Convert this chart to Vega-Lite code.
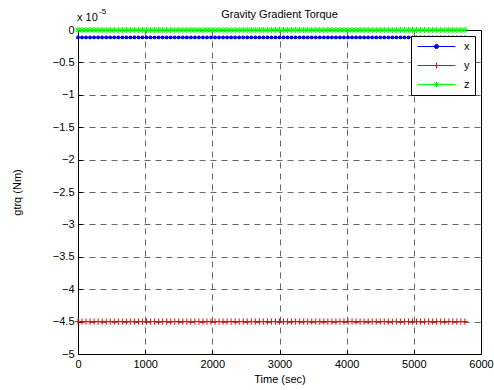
{
  "$schema": "https://vega.github.io/schema/vega-lite/v6.json",
  "width": 403,
  "height": 324,
  "autosize": {"type": "none"},
  "padding": {"left": 78, "top": 30, "right": 13, "bottom": 36},
  "background": "white",
  "title": {"text": "Gravity Gradient Torque", "frame": "group", "font": "Liberation Sans", "fontSize": 11, "fontWeight": "normal", "color": "black", "offset": -12},
  "config": {
    "view": {"stroke": "black", "strokeWidth": 1},
    "axis": {
      "labelFont": "Liberation Sans", "labelFontSize": 11, "labelColor": "black",
      "titleFont": "Liberation Sans", "titleFontSize": 11, "titleFontWeight": "normal", "titleColor": "black",
      "domainColor": "black", "domainWidth": 1,
      "tickColor": "black", "tickSize": -4, "labelPadding": 8,
      "grid": true, "gridColor": "black", "gridDash": [6, 5], "gridWidth": 0.6, "gridOpacity": 1
    },
    "legend": {
      "labelFont": "Liberation Sans", "labelFontSize": 11, "labelColor": "black"
    }
  },
  "data": {"values": [
    {"t":0,"x":-1.15e-6,"y":-4.5e-5,"z":0},
    {"t":60,"x":-1.15e-6,"y":-4.5e-5,"z":0},
    {"t":120,"x":-1.15e-6,"y":-4.5e-5,"z":0},
    {"t":180,"x":-1.15e-6,"y":-4.5e-5,"z":0},
    {"t":240,"x":-1.15e-6,"y":-4.5e-5,"z":0},
    {"t":300,"x":-1.15e-6,"y":-4.5e-5,"z":0},
    {"t":360,"x":-1.15e-6,"y":-4.5e-5,"z":0},
    {"t":420,"x":-1.15e-6,"y":-4.5e-5,"z":0},
    {"t":480,"x":-1.15e-6,"y":-4.5e-5,"z":0},
    {"t":540,"x":-1.15e-6,"y":-4.5e-5,"z":0},
    {"t":600,"x":-1.15e-6,"y":-4.5e-5,"z":0},
    {"t":660,"x":-1.15e-6,"y":-4.5e-5,"z":0},
    {"t":720,"x":-1.15e-6,"y":-4.5e-5,"z":0},
    {"t":780,"x":-1.15e-6,"y":-4.5e-5,"z":0},
    {"t":840,"x":-1.15e-6,"y":-4.5e-5,"z":0},
    {"t":900,"x":-1.15e-6,"y":-4.5e-5,"z":0},
    {"t":960,"x":-1.15e-6,"y":-4.5e-5,"z":0},
    {"t":1020,"x":-1.15e-6,"y":-4.5e-5,"z":0},
    {"t":1080,"x":-1.15e-6,"y":-4.5e-5,"z":0},
    {"t":1140,"x":-1.15e-6,"y":-4.5e-5,"z":0},
    {"t":1200,"x":-1.15e-6,"y":-4.5e-5,"z":0},
    {"t":1260,"x":-1.15e-6,"y":-4.5e-5,"z":0},
    {"t":1320,"x":-1.15e-6,"y":-4.5e-5,"z":0},
    {"t":1380,"x":-1.15e-6,"y":-4.5e-5,"z":0},
    {"t":1440,"x":-1.15e-6,"y":-4.5e-5,"z":0},
    {"t":1500,"x":-1.15e-6,"y":-4.5e-5,"z":0},
    {"t":1560,"x":-1.15e-6,"y":-4.5e-5,"z":0},
    {"t":1620,"x":-1.15e-6,"y":-4.5e-5,"z":0},
    {"t":1680,"x":-1.15e-6,"y":-4.5e-5,"z":0},
    {"t":1740,"x":-1.15e-6,"y":-4.5e-5,"z":0},
    {"t":1800,"x":-1.15e-6,"y":-4.5e-5,"z":0},
    {"t":1860,"x":-1.15e-6,"y":-4.5e-5,"z":0},
    {"t":1920,"x":-1.15e-6,"y":-4.5e-5,"z":0},
    {"t":1980,"x":-1.15e-6,"y":-4.5e-5,"z":0},
    {"t":2040,"x":-1.15e-6,"y":-4.5e-5,"z":0},
    {"t":2100,"x":-1.15e-6,"y":-4.5e-5,"z":0},
    {"t":2160,"x":-1.15e-6,"y":-4.5e-5,"z":0},
    {"t":2220,"x":-1.15e-6,"y":-4.5e-5,"z":0},
    {"t":2280,"x":-1.15e-6,"y":-4.5e-5,"z":0},
    {"t":2340,"x":-1.15e-6,"y":-4.5e-5,"z":0},
    {"t":2400,"x":-1.15e-6,"y":-4.5e-5,"z":0},
    {"t":2460,"x":-1.15e-6,"y":-4.5e-5,"z":0},
    {"t":2520,"x":-1.15e-6,"y":-4.5e-5,"z":0},
    {"t":2580,"x":-1.15e-6,"y":-4.5e-5,"z":0},
    {"t":2640,"x":-1.15e-6,"y":-4.5e-5,"z":0},
    {"t":2700,"x":-1.15e-6,"y":-4.5e-5,"z":0},
    {"t":2760,"x":-1.15e-6,"y":-4.5e-5,"z":0},
    {"t":2820,"x":-1.15e-6,"y":-4.5e-5,"z":0},
    {"t":2880,"x":-1.15e-6,"y":-4.5e-5,"z":0},
    {"t":2940,"x":-1.15e-6,"y":-4.5e-5,"z":0},
    {"t":3000,"x":-1.15e-6,"y":-4.5e-5,"z":0},
    {"t":3060,"x":-1.15e-6,"y":-4.5e-5,"z":0},
    {"t":3120,"x":-1.15e-6,"y":-4.5e-5,"z":0},
    {"t":3180,"x":-1.15e-6,"y":-4.5e-5,"z":0},
    {"t":3240,"x":-1.15e-6,"y":-4.5e-5,"z":0},
    {"t":3300,"x":-1.15e-6,"y":-4.5e-5,"z":0},
    {"t":3360,"x":-1.15e-6,"y":-4.5e-5,"z":0},
    {"t":3420,"x":-1.15e-6,"y":-4.5e-5,"z":0},
    {"t":3480,"x":-1.15e-6,"y":-4.5e-5,"z":0},
    {"t":3540,"x":-1.15e-6,"y":-4.5e-5,"z":0},
    {"t":3600,"x":-1.15e-6,"y":-4.5e-5,"z":0},
    {"t":3660,"x":-1.15e-6,"y":-4.5e-5,"z":0},
    {"t":3720,"x":-1.15e-6,"y":-4.5e-5,"z":0},
    {"t":3780,"x":-1.15e-6,"y":-4.5e-5,"z":0},
    {"t":3840,"x":-1.15e-6,"y":-4.5e-5,"z":0},
    {"t":3900,"x":-1.15e-6,"y":-4.5e-5,"z":0},
    {"t":3960,"x":-1.15e-6,"y":-4.5e-5,"z":0},
    {"t":4020,"x":-1.15e-6,"y":-4.5e-5,"z":0},
    {"t":4080,"x":-1.15e-6,"y":-4.5e-5,"z":0},
    {"t":4140,"x":-1.15e-6,"y":-4.5e-5,"z":0},
    {"t":4200,"x":-1.15e-6,"y":-4.5e-5,"z":0},
    {"t":4260,"x":-1.15e-6,"y":-4.5e-5,"z":0},
    {"t":4320,"x":-1.15e-6,"y":-4.5e-5,"z":0},
    {"t":4380,"x":-1.15e-6,"y":-4.5e-5,"z":0},
    {"t":4440,"x":-1.15e-6,"y":-4.5e-5,"z":0},
    {"t":4500,"x":-1.15e-6,"y":-4.5e-5,"z":0},
    {"t":4560,"x":-1.15e-6,"y":-4.5e-5,"z":0},
    {"t":4620,"x":-1.15e-6,"y":-4.5e-5,"z":0},
    {"t":4680,"x":-1.15e-6,"y":-4.5e-5,"z":0},
    {"t":4740,"x":-1.15e-6,"y":-4.5e-5,"z":0},
    {"t":4800,"x":-1.15e-6,"y":-4.5e-5,"z":0},
    {"t":4860,"x":-1.15e-6,"y":-4.5e-5,"z":0},
    {"t":4920,"x":-1.15e-6,"y":-4.5e-5,"z":0},
    {"t":4980,"x":-1.15e-6,"y":-4.5e-5,"z":0},
    {"t":5040,"x":-1.15e-6,"y":-4.5e-5,"z":0},
    {"t":5100,"x":-1.15e-6,"y":-4.5e-5,"z":0},
    {"t":5160,"x":-1.15e-6,"y":-4.5e-5,"z":0},
    {"t":5220,"x":-1.15e-6,"y":-4.5e-5,"z":0},
    {"t":5280,"x":-1.15e-6,"y":-4.5e-5,"z":0},
    {"t":5340,"x":-1.15e-6,"y":-4.5e-5,"z":0},
    {"t":5400,"x":-1.15e-6,"y":-4.5e-5,"z":0},
    {"t":5460,"x":-1.15e-6,"y":-4.5e-5,"z":0},
    {"t":5520,"x":-1.15e-6,"y":-4.5e-5,"z":0},
    {"t":5580,"x":-1.15e-6,"y":-4.5e-5,"z":0},
    {"t":5640,"x":-1.15e-6,"y":-4.5e-5,"z":0},
    {"t":5700,"x":-1.15e-6,"y":-4.5e-5,"z":0},
    {"t":5760,"x":-1.15e-6,"y":-4.5e-5,"z":0}
  ]},
  "transform": [{"fold": ["x", "y", "z"], "as": ["series", "gtrq"]}],
  "encoding": {
    "x": {"field": "t", "type": "quantitative", "scale": {"domain": [0, 6000], "nice": false},
          "axis": {"values": [0, 1000, 2000, 3000, 4000, 5000, 6000], "format": "d", "title": "Time (sec)", "titlePadding": 4, "labelFlush": false}},
    "y": {"field": "gtrq", "type": "quantitative", "scale": {"domain": [-5e-5, 0], "nice": false, "zero": false},
          "axis": {"values": [-5e-5, -4.5e-5, -4e-5, -3.5e-5, -3e-5, -2.5e-5, -2e-5, -1.5e-5, -1e-5, -0.5e-5, 0],
                   "labelExpr": "format(datum.value * 1e5, '~g')", "title": "gtrq (Nm)", "titlePadding": 30, "labelFlush": false}}
  },
  "layer": [
    {
      "transform": [{"filter": "datum.series === 'x'"}],
      "layer": [
        {"mark": {"type": "line", "strokeWidth": 1, "clip": true, "color": "#0000ff"}, "encoding": {}},
        {"mark": {"type": "point", "filled": true, "shape": "circle", "size": 14, "color": "#0000ff", "opacity": 1}, "encoding": {}}
      ]
    },
    {
      "transform": [{"filter": "datum.series === 'y'"}],
      "layer": [
        {"mark": {"type": "line", "strokeWidth": 1, "clip": true, "color": "#ff0000"}, "encoding": {}},
        {"mark": {"type": "point", "filled": false, "shape": "M-1,0H1M0,-1V1", "size": 40, "strokeWidth": 1, "color": "#ff0000", "opacity": 1}, "encoding": {}}
      ]
    },
    {
      "transform": [{"filter": "datum.series === 'z'"}],
      "layer": [
        {"mark": {"type": "line", "strokeWidth": 1, "clip": true, "color": "#00ff00"}, "encoding": {}},
        {"mark": {"type": "point", "filled": false, "shape": "M-1,0H1M0,-1V1M-0.7,-0.7L0.7,0.7M-0.7,0.7L0.7,-0.7", "size": 40, "strokeWidth": 1, "color": "#00ff00", "opacity": 1}, "encoding": {}}
      ]
    },
    {
      "transform": [{"filter": "datum.series === 'none'"}],
      "mark": {"type": "point", "filled": true, "opacity": 1, "strokeWidth": 1},
      "encoding": {
        "color": {"field": "series", "type": "nominal",
                  "scale": {"domain": ["x", "y", "z"], "range": ["#0000ff", "#ff0000", "#00ff00"]},
                  "legend": {
                    "title": null, "orient": "top-right", "offset": 6,
                    "padding": 5, "strokeColor": "black", "fillColor": "white",
                    "symbolSize": 36, "symbolStrokeWidth": 1, "symbolOffset": 15, "labelOffset": 22,
                    "rowPadding": 7
                  }},
        "stroke": {"field": "series", "type": "nominal",
                   "scale": {"domain": ["x", "y", "z"], "range": ["#0000ff", "#ff0000", "#00ff00"]}},
        "shape": {"field": "series", "type": "nominal",
                  "scale": {"domain": ["x", "y", "z"], "range": [
                    "M-6.3,0H6.3M0.7,0A0.7,0.7,0,1,1,-0.7,0A0.7,0.7,0,1,1,0.7,0Z",
                    "M-6.3,0H6.3M0,-1V1",
                    "M-6.3,0H6.3M0,-1V1M-0.7,-0.7L0.7,0.7M-0.7,0.7L0.7,-0.7"]}}
      }
    },
    {
      "transform": [{"filter": "datum.t === 0 && datum.series === 'z'"}],
      "mark": {"type": "text", "align": "left", "baseline": "alphabetic", "dx": -1, "dy": -9, "font": "Liberation Sans", "fontSize": 11, "color": "black"},
      "encoding": {"text": {"value": "x 10"}}
    },
    {
      "transform": [{"filter": "datum.t === 0 && datum.series === 'z'"}],
      "mark": {"type": "text", "align": "left", "baseline": "alphabetic", "dx": 21, "dy": -16, "font": "Liberation Sans", "fontSize": 8, "color": "black"},
      "encoding": {"text": {"value": "-5"}}
    }
  ]
}
